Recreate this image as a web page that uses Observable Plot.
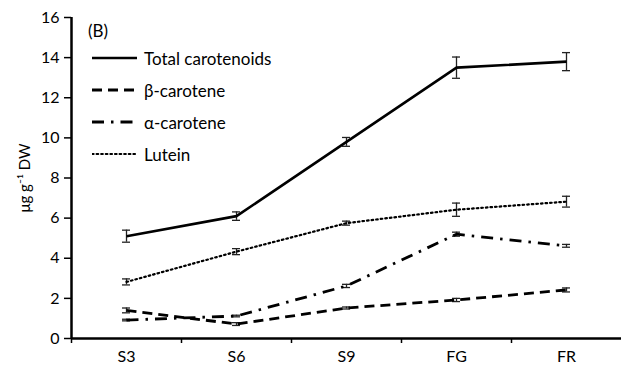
<!DOCTYPE html>
<html><head><meta charset="utf-8">
<script src="https://cdn.jsdelivr.net/npm/d3@7"></script>
<script src="https://cdn.jsdelivr.net/npm/@observablehq/plot@0.6"></script>
<style>
body{margin:0;background:#fff;font-family:Lato,"Open Sans",sans-serif;}
#wrap{position:relative;width:621px;height:374px;}
#legend{position:absolute;left:88px;top:18px;font-size:17px;color:#000;}
#legend .row{position:absolute;left:4px;white-space:nowrap;display:flex;align-items:center;height:20px;}
#legend .row svg{margin-right:6px;}
#tag{position:absolute;left:0;top:3px;font-size:17px;line-height:20px;}
</style></head><body>
<div id="wrap"><div id="chart"></div><div id="legend"></div></div>
<script>
const stages = ["S3","S6","S9","FG","FR"];
const seriesNames = ["Total carotenoids","β-carotene","α-carotene","Lutein"];
const totalVals = [5.1, 6.1, 9.8, 13.5, 13.8];
const totalErr  = [0.3, 0.21, 0.22, 0.53, 0.45];
const betaVals  = [1.4, 0.72, 1.52, 1.92, 2.42];
const betaErr   = [0.12, 0.07, 0.05, 0.08, 0.1];
const alphaVals = [0.92, 1.12, 2.62, 5.2, 4.62];
const alphaErr  = [0.04, 0.04, 0.08, 0.1, 0.07];
const luteinVals= [2.82, 4.33, 5.75, 6.42, 6.82];
const luteinErr = [0.15, 0.15, 0.1, 0.33, 0.27];
const yTicks = [0,2,4,6,8,10,12,14,16];

const styles = {
  "Total carotenoids": {dash: null, w: 2.6},
  "β-carotene": {dash: "10,6", w: 2.8},
  "α-carotene": {dash: "12,7,2.5,7", w: 2.8},
  "Lutein": {dash: "1.6,3", w: 2.2}
};
const vals = [totalVals, betaVals, alphaVals, luteinVals];
const errs = [totalErr, betaErr, alphaErr, luteinErr];
const data = [];
seriesNames.forEach((s, i) => stages.forEach((st, j) =>
  data.push({series: s, stage: st, v: vals[i][j], e: errs[i][j]})));

const marks = [];
marks.push(Plot.ruleX(data, {x: "stage", y1: d => d.v - d.e, y2: d => d.v + d.e, stroke: "#222", strokeWidth: 1.3}));
marks.push(Plot.tickY(data, {x: "stage", y: d => d.v - d.e, stroke: "#222", strokeWidth: 1.3, insetLeft: 51, insetRight: 51}));
marks.push(Plot.tickY(data, {x: "stage", y: d => d.v + d.e, stroke: "#222", strokeWidth: 1.3, insetLeft: 51, insetRight: 51}));
seriesNames.forEach(s => {
  marks.push(Plot.line(data.filter(d => d.series === s), {
    x: "stage", y: "v", stroke: "#000", strokeWidth: styles[s].w,
    strokeDasharray: styles[s].dash, strokeLinecap: s === "Lutein" ? "round" : "butt"
  }));
});
marks.push(Plot.axisY({ticks: yTicks, tickSize: 7, tickPadding: 5, fontSize: 16, label: "μg g⁻¹ DW", labelAnchor: "center", labelOffset: 52, labelArrow: false, stroke: "#000", strokeWidth: 1.5}));
marks.push(Plot.axisX({tickSize: 0, tickPadding: 12, fontSize: 16, label: null}));
marks.push(Plot.axisX({tickSize: 5, tickFormat: () => "", dx: -55, label: null, stroke: "#000", strokeWidth: 1.5}));
marks.push(Plot.ruleY([0], {stroke: "#000", strokeWidth: 2.5}));
marks.push(Plot.ruleX([stages[0]], {dx: -55, stroke: "#000", strokeWidth: 2.5}));

const chart = Plot.plot({
  width: 621, height: 374,
  marginLeft: 71, marginRight: 0, marginTop: 17, marginBottom: 36,
  style: {fontFamily: "Lato, 'Open Sans', sans-serif", fontSize: "16px", color: "#000", background: "#fff"},
  x: {domain: stages, type: "band", padding: 0, label: null},
  y: {domain: [0, 16], label: null},
  marks
});
document.getElementById("chart").appendChild(chart);
chart.querySelectorAll("g[aria-label='y-axis label'] text").forEach(t => t.style.fontSize = "15px");

const leg = document.getElementById("legend");
const tag = document.createElement("div"); tag.id = "tag"; tag.textContent = "(B)"; leg.appendChild(tag);
seriesNames.forEach((s, i) => {
  const row = document.createElement("div");
  row.className = "row";
  row.style.top = (30 + i * 32) + "px";
  const st = styles[s];
  row.innerHTML = `<svg width="46" height="10"><line x1="0" x2="45" y1="5" y2="5" stroke="#000" stroke-width="${st.w}" ${st.dash ? `stroke-dasharray="${st.dash}"` : ""} ${s === "Lutein" ? 'stroke-linecap="round"' : ""}/></svg><span>${s}</span>`;
  leg.appendChild(row);
});
</script>
</body></html>
